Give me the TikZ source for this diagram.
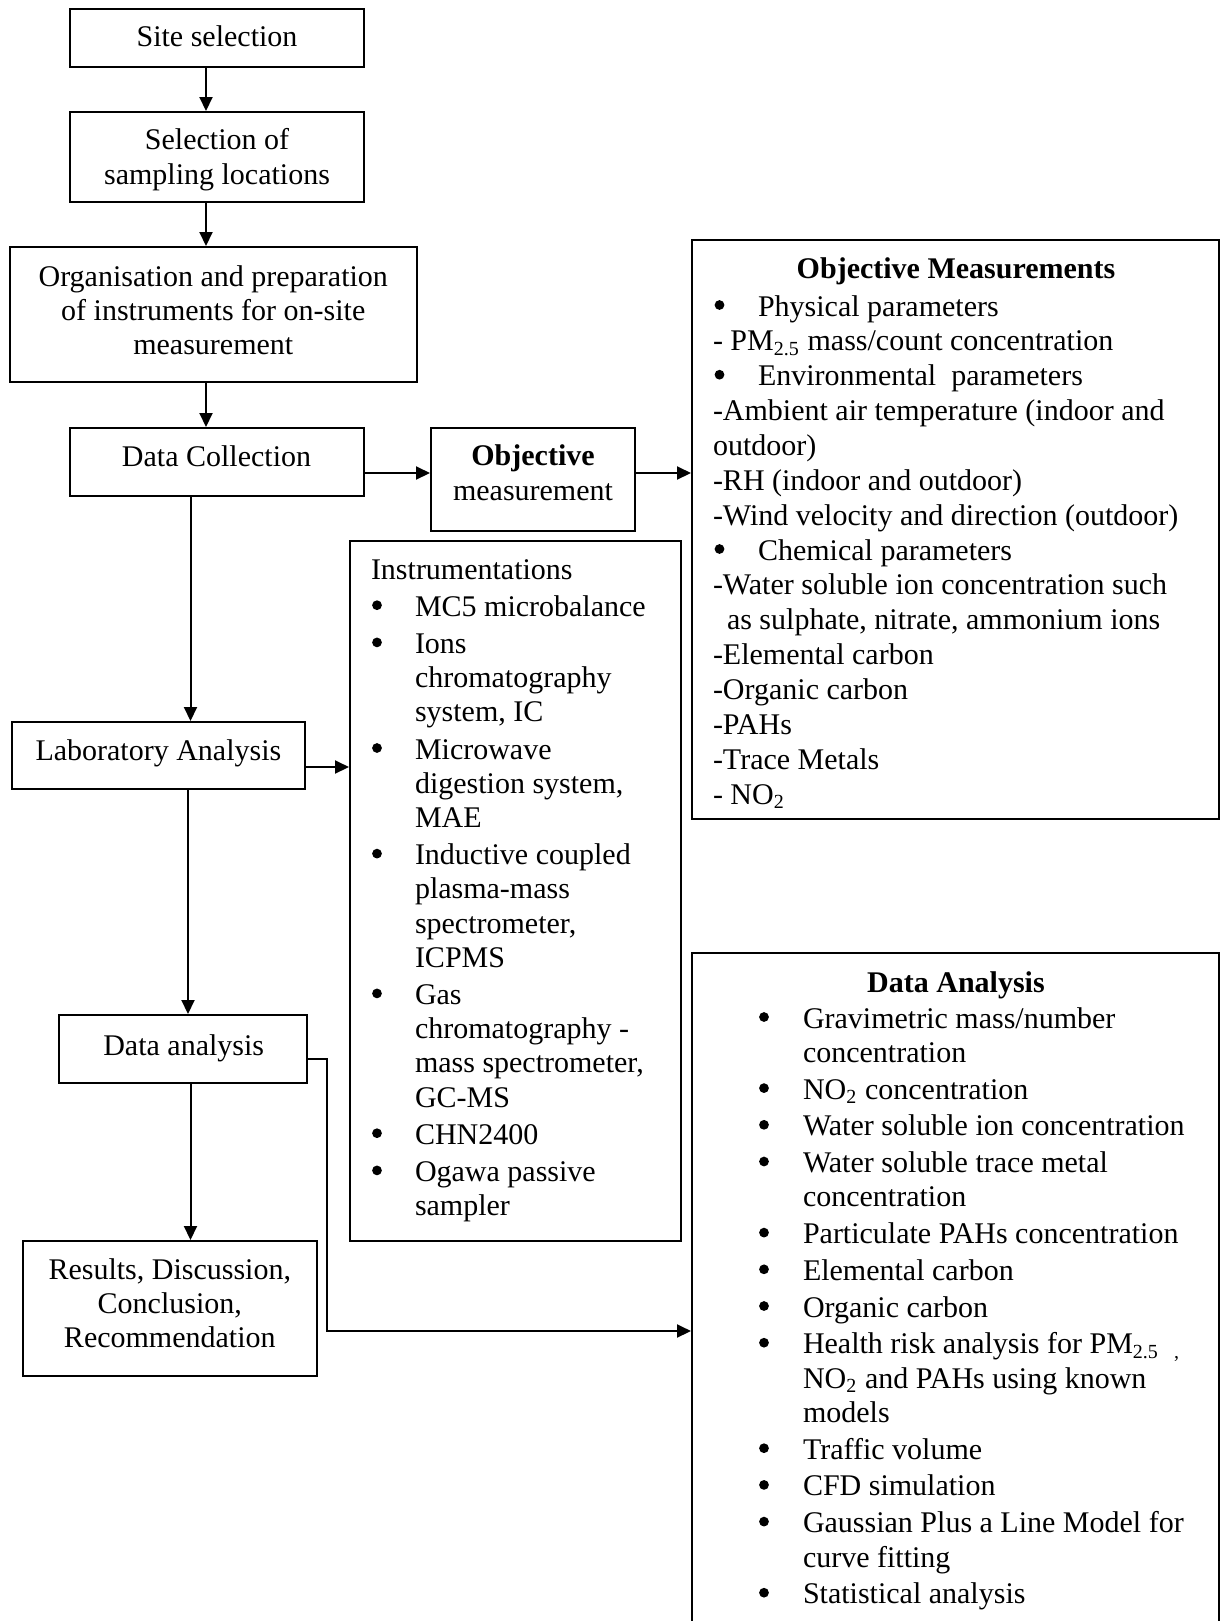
\documentclass[tikz,border=0pt]{standalone}
\usepackage{fontspec}
\setmainfont{Liberation Serif}
\usetikzlibrary{arrows.meta}
\newcommand\Lw[4]{\node[tl, anchor=base west] (#1) at (#2,#3) {#4};}
\newcommand\Lc[4]{\node[tl, anchor=base] (#1) at (#2,#3) {#4};}
\newcommand\Bul[3]{\node[bul] (#1) at (#2,#3-11) {};}
\begin{document}
\begin{tikzpicture}[x=0.4pt,y=-0.4pt,
  box/.style={draw, line width=0.8pt, inner sep=0pt, rectangle},
  tl/.style={inner sep=0pt, outer sep=0pt, font=\fontsize{12}{13.8}\selectfont},
  bul/.style={circle, fill, inner sep=0pt, minimum size=3.9pt},
  arr/.style={line width=0.8pt, -{Triangle[length=5.6pt,width=5.2pt]}}]
\clip (0,0) rectangle (1220,1621);
\useasboundingbox (0,0) rectangle (1220,1621);
% ---------- boxes ----------
\node[box, minimum width=294*0.4pt, minimum height=58*0.4pt] (site) at (217,38) {};
\node[box, minimum width=294*0.4pt, minimum height=90*0.4pt] (sel) at (217,157) {};
\node[box, minimum width=407*0.4pt, minimum height=135*0.4pt] (org) at (213.5,314.5) {};
\node[box, minimum width=294*0.4pt, minimum height=68*0.4pt] (dc) at (217,462) {};
\node[box, minimum width=204*0.4pt, minimum height=103*0.4pt] (obj) at (533,479.5) {};
\node[box, minimum width=293.5*0.4pt, minimum height=67*0.4pt] (lab) at (158.25,755.5) {};
\node[box, minimum width=248*0.4pt, minimum height=68*0.4pt] (da) at (183,1049) {};
\node[box, minimum width=294*0.4pt, minimum height=135*0.4pt] (res) at (170,1308.5) {};
\node[box, minimum width=527*0.4pt, minimum height=579*0.4pt] (om) at (955.5,529.5) {};
\node[box, minimum width=331*0.4pt, minimum height=700*0.4pt] (ins) at (515.5,891) {};
\node[box, minimum width=527*0.4pt, minimum height=687*0.4pt] (dab) at (955.5,1296.5) {};
% ---------- flowchart texts ----------
\Lc{site-t}{217}{46.7}{Site selection}
\Lc{sel-t1}{217}{149.3}{Selection of}
\Lc{sel-t2}{217}{184.3}{sampling locations}
\Lc{org-t1}{213.3}{286}{Organisation and preparation}
\Lc{org-t2}{213.3}{320}{of instruments for on-site}
\Lc{org-t3}{213.3}{354}{measurement}
\Lc{dc-t}{216.5}{466.7}{Data Collection}
\Lc{obj-t1}{533}{465.7}{\textbf{Objective}}
\Lc{obj-t2}{533}{500}{measurement}
\Lc{lab-t}{158.4}{760}{Laboratory Analysis}
\Lc{da-t}{183.7}{1055}{Data analysis}
\Lc{res-t1}{169.8}{1279}{Results, Discussion,}
\Lc{res-t2}{169.8}{1313}{Conclusion,}
\Lc{res-t3}{169.8}{1347}{Recommendation}
% ---------- Objective Measurements ----------
\Lc{omT}{956}{278}{\textbf{Objective Measurements}}
\Bul{omb1}{719.5}{316}
\Lw{om1}{758}{316}{Physical parameters}
\Lw{om2}{713}{350.9}{- PM\textsubscript{2.5} mass/count concentration}
\Bul{omb2}{719.5}{385.7}
\Lw{om3}{758}{385.7}{Environmental\ \ parameters}
\Lw{om4}{713}{420.6}{-Ambient air temperature (indoor and}
\Lw{om5}{713}{455.4}{outdoor)}
\Lw{om6}{713}{490.3}{-RH (indoor and outdoor)}
\Lw{om7}{713}{525.2}{-Wind velocity and direction (outdoor)}
\Bul{omb3}{719.5}{560}
\Lw{om8}{758}{560}{Chemical parameters}
\Lw{om9}{713}{594.9}{-Water soluble ion concentration such}
\Lw{om10}{727}{629.7}{as sulphate, nitrate, ammonium ions}
\Lw{om11}{713}{664.6}{-Elemental carbon}
\Lw{om12}{713}{699.5}{-Organic carbon}
\Lw{om13}{713}{734.3}{-PAHs}
\Lw{om14}{713}{769.2}{-Trace Metals}
\Lw{om15}{713}{804}{- NO\textsubscript{2}}
% ---------- Instrumentations ----------
\Lw{in0}{371}{579}{Instrumentations}
\Bul{inb1}{377}{616.2}
\Lw{in1}{415}{616.2}{MC5 microbalance}
\Bul{inb2}{377}{653.4}
\Lw{in2}{415}{653.4}{Ions}
\Lw{in3}{415}{687.6}{chromatography}
\Lw{in4}{415}{721.8}{system, IC}
\Bul{inb3}{377}{759}
\Lw{in5}{415}{759}{Microwave}
\Lw{in6}{415}{793.2}{digestion system,}
\Lw{in7}{415}{827.4}{MAE}
\Bul{inb4}{377}{864.6}
\Lw{in8}{415}{864.6}{Inductive coupled}
\Lw{in9}{415}{898.8}{plasma-mass}
\Lw{in10}{415}{933}{spectrometer,}
\Lw{in11}{415}{967.2}{ICPMS}
\Bul{inb5}{377}{1004.4}
\Lw{in12}{415}{1004.4}{Gas}
\Lw{in13}{415}{1038.6}{chromatography -}
\Lw{in14}{415}{1072.8}{mass spectrometer,}
\Lw{in15}{415}{1107}{GC-MS}
\Bul{inb6}{377}{1144.2}
\Lw{in16}{415}{1144.2}{CHN2400}
\Bul{inb7}{377}{1181.4}
\Lw{in17}{415}{1181.4}{Ogawa passive}
\Lw{in18}{415}{1215.6}{sampler}
% ---------- Data Analysis ----------
\Lc{daT}{956}{992}{\textbf{Data Analysis}}
\Bul{dab1}{764}{1028}
\Lw{da1}{803}{1028}{Gravimetric mass/number}
\Lw{da2}{803}{1062.4}{concentration}
\Bul{dab2}{764}{1099.1}
\Lw{da3}{803}{1099.1}{NO\textsubscript{2} concentration}
\Bul{dab3}{764}{1135.8}
\Lw{da4}{803}{1135.8}{Water soluble ion concentration}
\Bul{dab4}{764}{1172.5}
\Lw{da5}{803}{1172.5}{Water soluble trace metal}
\Lw{da6}{803}{1206.9}{concentration}
\Bul{dab5}{764}{1243.6}
\Lw{da7}{803}{1243.6}{Particulate PAHs concentration}
\Bul{dab6}{764}{1280.3}
\Lw{da8}{803}{1280.3}{Elemental carbon}
\Bul{dab7}{764}{1317}
\Lw{da9}{803}{1317}{Organic carbon}
\Bul{dab8}{764}{1353.7}
\Lw{da10}{803}{1353.7}{Health risk analysis for PM\textsubscript{2.5}\ \ \textsubscript{,}}
\Lw{da11}{803}{1388.1}{NO\textsubscript{2} and PAHs using known}
\Lw{da12}{803}{1422.5}{models}
\Bul{dab9}{764}{1459.2}
\Lw{da13}{803}{1459.2}{Traffic volume}
\Bul{dab10}{764}{1495.9}
\Lw{da14}{803}{1495.9}{CFD simulation}
\Bul{dab11}{764}{1532.6}
\Lw{da15}{803}{1532.6}{Gaussian Plus a Line Model for}
\Lw{da16}{803}{1567}{curve fitting}
\Bul{dab12}{764}{1603.7}
\Lw{da17}{803}{1603.7}{Statistical analysis}
% ---------- connectors ----------
\coordinate (ax) at (206,0);
\coordinate (bx) at (190.5,0);
\coordinate (cx) at (188,0);
\coordinate (ay) at (0,473);
\coordinate (by) at (0,767);
\coordinate (e1) at (327,1059);
\coordinate (e2) at (327,1331);
\draw[arr] (site.south -| ax) -- (sel.north -| ax);
\draw[arr] (sel.south -| ax) -- (org.north -| ax);
\draw[arr] (org.south -| ax) -- (dc.north -| ax);
\draw[arr] (dc.east |- ay) -- (obj.west |- ay);
\draw[arr] (obj.east |- ay) -- (om.west |- ay);
\draw[arr] (dc.south -| bx) -- (lab.north -| bx);
\draw[arr] (lab.east |- by) -- (ins.west |- by);
\draw[arr] (lab.south -| cx) -- (da.north -| cx);
\draw[arr] (da.south -| bx) -- (res.north -| bx);
\draw[arr] (da.east |- e1) -- (e1) -- (e2) -- (dab.west |- e2);
\end{tikzpicture}
\end{document}
